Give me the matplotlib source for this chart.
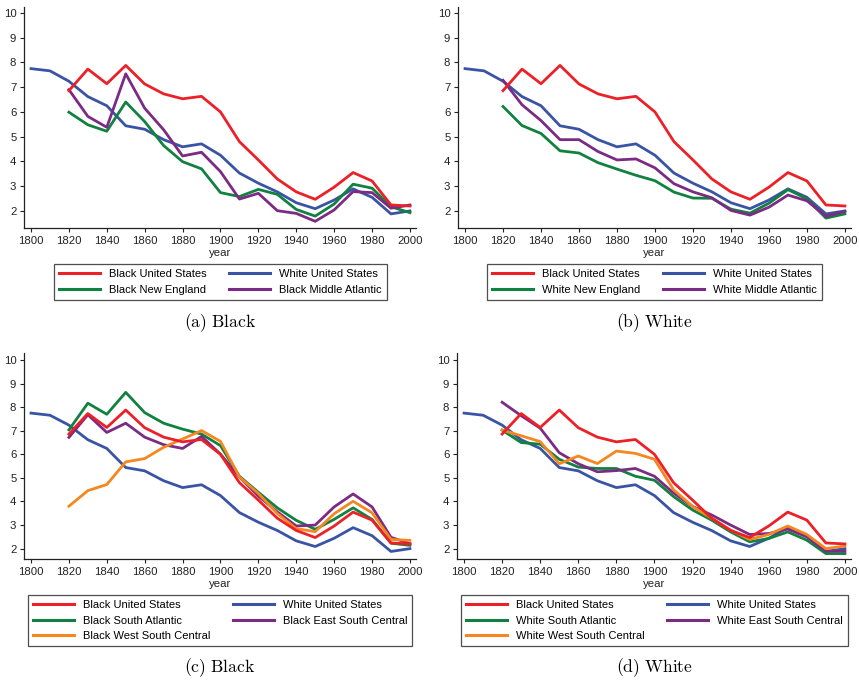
import matplotlib
matplotlib.use('Agg')
import matplotlib.pyplot as plt
from matplotlib.lines import Line2D

plt.rcParams['font.family'] = ['Liberation Sans', 'DejaVu Sans']
plt.rcParams['mathtext.fontset'] = 'cm'

years = list(range(1800, 2001, 10))
years_1820 = list(range(1820, 2001, 10))

white_us = [7.75, 7.66, 7.24, 6.62, 6.25, 5.44, 5.30, 4.88, 4.59, 4.71, 4.25,
            3.53, 3.12, 2.77, 2.33, 2.09, 2.44, 2.89, 2.55, 1.88, 2.00]
black_us = [6.86, 7.73, 7.14, 7.88, 7.13, 6.73, 6.53, 6.63, 6.00,
            4.80, 4.06, 3.29, 2.77, 2.47, 2.96, 3.55, 3.21, 2.24, 2.20]

# panel (a)
black_ne = [5.99, 5.48, 5.22, 6.40, 5.61, 4.64, 3.99, 3.70, 2.74,
            2.58, 2.87, 2.67, 2.06, 1.79, 2.28, 3.08, 2.92, 2.17, 1.93]
black_ma = [6.90, 5.82, 5.38, 7.54, 6.15, 5.28, 4.22, 4.37, 3.59,
            2.48, 2.71, 2.01, 1.90, 1.58, 2.04, 2.78, 2.74, 2.11, 2.24]

# panel (b)
white_ne = [6.22, 5.45, 5.13, 4.43, 4.34, 3.95, 3.69, 3.44, 3.22,
            2.76, 2.52, 2.51, 2.07, 1.91, 2.31, 2.86, 2.49, 1.71, 1.88]
white_ma = [7.28, 6.29, 5.65, 4.88, 4.88, 4.40, 4.06, 4.10, 3.74,
            3.10, 2.77, 2.53, 2.02, 1.83, 2.15, 2.64, 2.41, 1.78, 1.98]

# panel (c)
black_sa = [7.04, 8.17, 7.70, 8.63, 7.77, 7.32, 7.07, 6.86, 6.37,
            5.07, 4.39, 3.73, 3.20, 2.82, 3.24, 3.73, 3.24, 2.23, 2.14]
black_esc = [6.72, 7.68, 6.93, 7.32, 6.73, 6.41, 6.25, 6.76, 6.01,
             5.04, 4.23, 3.56, 2.96, 3.00, 3.77, 4.32, 3.77, 2.48, 2.21]
black_wsc = [3.80, 4.46, 4.72, 5.68, 5.82, 6.30, 6.65, 7.01, 6.55,
             5.04, 4.34, 3.49, 2.85, 2.72, 3.48, 4.01, 3.52, 2.39, 2.35]

# panel (d)
white_sa = [7.03, 6.50, 6.43, 5.79, 5.46, 5.40, 5.40, 5.07, 4.90,
            4.21, 3.64, 3.21, 2.71, 2.29, 2.43, 2.71, 2.36, 1.79, 1.79]
white_esc = [8.21, 7.64, 7.11, 6.07, 5.60, 5.26, 5.31, 5.40, 5.07,
             4.36, 3.79, 3.43, 3.00, 2.60, 2.64, 2.83, 2.50, 1.89, 1.89]
white_wsc = [7.03, 6.79, 6.54, 5.60, 5.93, 5.61, 6.14, 6.04, 5.79,
             4.50, 3.79, 3.29, 2.79, 2.39, 2.60, 2.96, 2.60, 2.00, 2.11]

RED = '#ec2027'
BLUE = '#3a54a4'
GREEN = '#11813f'
PURPLE = '#7b2b84'
ORANGE = '#f6871f'

W, H = 859, 682
LW = 2.0
FS = 8.0
TICK_FS = 8.2


def px_axes(fig, left, top, right, bottom):
    return fig.add_axes([left / W, 1 - bottom / H, (right - left) / W, (bottom - top) / H])


def style_axes(ax, ylim):
    ax.set_xlim(1796.3, 2003.2)
    ax.set_ylim(*ylim)
    ax.set_xticks(range(1800, 2001, 20))
    ax.set_yticks(range(2, 11))
    for s in ['top', 'right']:
        ax.spines[s].set_visible(False)
    for s in ['left', 'bottom']:
        ax.spines[s].set_linewidth(0.9)
        ax.spines[s].set_color('#222222')
    ax.tick_params(direction='out', length=3, width=0.8, pad=2.5,
                   labelsize=TICK_FS, colors='#222222')
    ax.set_xlabel('year', fontsize=TICK_FS, labelpad=1.5, color='#222222')


def draw_panel(fig, box, ylim, series, legend_center, legend_top, caption, caption_y):
    ax = px_axes(fig, *box)
    ax.plot(years, white_us, color=BLUE, lw=LW)
    for name, vals, color in series:
        ax.plot(years_1820, vals, color=color, lw=LW)
    ax.plot(years_1820, black_us, color=RED, lw=LW)
    style_axes(ax, ylim)

    items = [('Black United States', RED), ('White United States', BLUE)] + \
            [(name, color) for name, vals, color in series]
    # matplotlib fills legend columns top-down, so reorder for row-wise look
    if len(items) == 4:
        order = [0, 2, 1, 3]
    else:
        order = [0, 2, 4, 1, 3]
    handles = [Line2D([], [], color=items[i][1], lw=2.2) for i in order]
    labels = [items[i][0] for i in order]
    leg = fig.legend(handles, labels, loc='upper center', ncol=2,
                     bbox_to_anchor=(legend_center / W, 1 - legend_top / H),
                     fontsize=FS, frameon=True, fancybox=False, handlelength=3.7,
                     handletextpad=0.8, columnspacing=2.0, labelspacing=0.5,
                     borderpad=0.45, borderaxespad=0)
    leg.get_frame().set_edgecolor('#222222')
    leg.get_frame().set_linewidth(0.9)
    fig.text((box[0] + box[2]) / 2 / W, 1 - caption_y / H, caption,
             ha='center', va='center', fontsize=12.6)
    return ax


def main():
    fig = plt.figure(figsize=(W / 100, H / 100), dpi=100)

    top_ylim = (1.31, 10.24)
    bot_ylim = (1.56, 10.3)

    draw_panel(fig, (24, 7, 416, 228), top_ylim,
               [('Black New England', black_ne, GREEN),
                ('Black Middle Atlantic', black_ma, PURPLE)],
               220.5, 264, r'$\mathrm{(a)\ Black}$', 323)
    draw_panel(fig, (458, 7, 851, 228), top_ylim,
               [('White New England', white_ne, GREEN),
                ('White Middle Atlantic', white_ma, PURPLE)],
               654.5, 264, r'$\mathrm{(b)\ White}$', 323)
    draw_panel(fig, (24, 353, 416, 559), bot_ylim,
               [('Black South Atlantic', black_sa, GREEN),
                ('Black East South Central', black_esc, PURPLE),
                ('Black West South Central', black_wsc, ORANGE)],
               220, 595, r'$\mathrm{(c)\ Black}$', 668)
    draw_panel(fig, (457, 353, 851, 559), bot_ylim,
               [('White South Atlantic', white_sa, GREEN),
                ('White East South Central', white_esc, PURPLE),
                ('White West South Central', white_wsc, ORANGE)],
               654.5, 595, r'$\mathrm{(d)\ White}$', 668)

    fig.savefig('out.png', dpi=100)
    plt.close(fig)


if __name__ == '__main__':
    main()
